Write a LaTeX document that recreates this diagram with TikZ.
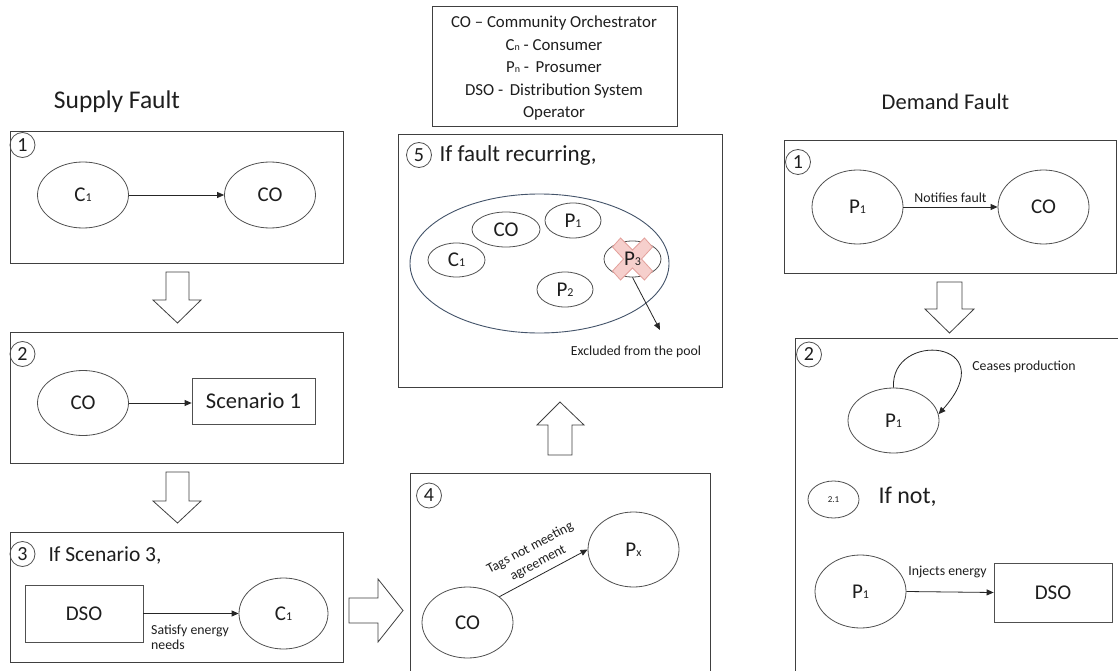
\documentclass[tikz,border=0pt]{standalone}
\usepackage{fontspec}
\setmainfont{Carlito}
\usetikzlibrary{shapes.geometric,arrows.meta}

\definecolor{lc}{HTML}{404040}
\definecolor{oc}{HTML}{505050}
\definecolor{ac}{HTML}{262626}
\definecolor{tc}{HTML}{1E1E1E}
\definecolor{poolc}{HTML}{44546A}
\definecolor{xfill}{HTML}{F6CFCC}
\definecolor{xdraw}{HTML}{E3A09B}

% small index set at the baseline (C1, P1, Cn ...)
\newcommand\ix[1]{{\fontsize{12}{12}\selectfont #1}}
\newcommand\ixs[1]{{\fontsize{10}{10}\selectfont #1}}

\tikzset{
  panel/.style={draw=lc, line width=1pt, rectangle, inner sep=0pt},
  oval/.style={ellipse, draw=oc, line width=0.8pt, inner sep=0pt, text=tc,
               font=\fontsize{21}{24}\selectfont},
  boxnode/.style={rectangle, draw=oc, line width=0.8pt, inner sep=0pt, text=tc,
               font=\fontsize{21}{24}\selectfont},
  badge/.style={ellipse, draw=oc, line width=0.8pt, inner sep=0pt,
               minimum width=25pt, minimum height=25pt, text=tc,
               font=\fontsize{20}{22}\selectfont},
  flow/.style={draw=ac, line width=0.8pt, -{Triangle[length=7pt,width=6pt]}},
  blockarrow/.style={draw=lc, line width=0.8pt, fill=white},
  small/.style={font=\fontsize{13.8}{15}\selectfont, text=tc},
  big/.style={font=\fontsize{21.5}{24}\selectfont, text=tc},
}

\begin{document}
\begin{tikzpicture}[x=1pt, y=-1pt]
\clip (0,0) rectangle (1118,671);
\fill[white] (0,0) rectangle (1118,671);

% ---------- legend ----------
\node[panel, minimum width=245pt, minimum height=120pt] (legend) at (554.5,67) {};
\node[align=center, text=tc, font=\fontsize{16.8}{22.5}\selectfont] (legendtext) at (554,68.5)
  {CO -- Community Orchestrator\\C\ixs{n} - Consumer\\P\ixs{n} -\, Prosumer\\DSO -\, Distribution System\\Operator};

% ---------- supply fault ----------
\node[font=\fontsize{25.5}{28}\selectfont, text=tc] (supplytitle) at (117,102) {Supply Fault};

\node[panel, minimum width=333pt, minimum height=131pt] (s1) at (176.5,197.5) {};
\node[badge] (s1b) at (22.5,145) {1};
\node[oval, minimum width=91pt, minimum height=66pt] (s1c) at (83,195) {C\ix{1}};
\node[oval, minimum width=91pt, minimum height=66pt] (s1co) at (270,195) {CO};
\draw[flow] (s1c) -- (s1co);

\node[panel, minimum width=333pt, minimum height=131pt] (s2) at (176.5,397.5) {};
\node[badge] (s2b) at (22.5,354) {2};
\node[oval, minimum width=91pt, minimum height=65pt] (s2co) at (83,403) {CO};
\node[boxnode, minimum width=123pt, minimum height=46pt, font=\fontsize{22.5}{24}\selectfont]
  (scen) at (253.5,401) {Scenario 1};
\draw[flow] (s2co.east) -- (s2co.east -| scen.west);

\node[panel, minimum width=333pt, minimum height=130pt] (s3) at (176.5,597) {};
\node[badge] (s3b) at (22.5,554) {3};
\node[big, anchor=west] (s3t) at (45,555) {If Scenario 3,};
\node[boxnode, minimum width=118pt, minimum height=57pt] (sdso) at (84,613.5) {DSO};
\node[oval, minimum width=89pt, minimum height=71pt] (s3c) at (283.5,613.5) {C\ix{1}};
\draw[flow] (sdso) -- (s3c);
\node[small, anchor=north west, align=left, inner sep=0pt] (s3l) at (151,625) {Satisfy energy\\needs};

% hollow block arrows of the supply chain
\draw[blockarrow] (166,272) -- (189,272) -- (189,300) -- (201,300) -- (177.5,323)
  -- (153,300) -- (166,300) -- cycle;
\draw[blockarrow] (166,472) -- (189,472) -- (189,501) -- (201,501) -- (177.5,523)
  -- (153,501) -- (166,501) -- cycle;
\draw[blockarrow] (349,598) -- (378,598) -- (378,579) -- (403,610.5) -- (378,642)
  -- (378,623) -- (349,623) -- cycle;

% ---------- step 4 ----------
\node[panel, minimum width=300pt, minimum height=230pt] (b4) at (560,588) {};
\node[badge] (b4b) at (429,495.5) {4};
\node[oval, minimum width=91pt, minimum height=71pt] (b4co) at (467.5,622.5) {CO};
\node[oval, minimum width=91pt, minimum height=75pt] (b4px) at (633.5,549.5) {P\ix{x}};
\draw[flow] (b4co.39) -- (b4px.west)
  node[midway, sloped, above, align=center, inner sep=5pt,
       font=\fontsize{13.8}{17}\selectfont, text=tc] {Tags not meeting\\agreement};

\draw[blockarrow] (548,455) -- (572,455) -- (572,425) -- (584,425) -- (560,402)
  -- (537,425) -- (548,425) -- cycle;

% ---------- step 5 ----------
\node[panel, minimum width=324pt, minimum height=252pt] (b5) at (560,261) {};
\node[badge] (b5b) at (419,155) {5};
\node[font=\fontsize{23}{26}\selectfont, text=tc, anchor=west] (b5t) at (436,155) {If fault recurring,};
\node[ellipse, draw=poolc, line width=0.9pt, minimum width=259pt, minimum height=139pt] (pool) at (539.5,263.5) {};
\node[oval, minimum width=68pt, minimum height=35pt] (pco) at (506,229.5) {CO};
\node[oval, minimum width=56pt, minimum height=35pt] (pp1) at (573,220.5) {P\ix{1}};
\node[oval, minimum width=57pt, minimum height=34pt] (pc1) at (456.5,260) {C\ix{1}};
\node[oval, minimum width=56pt, minimum height=35pt] (pp2) at (565,289.5) {P\ix{2}};
\node[oval, minimum width=57pt, minimum height=36pt] (pp3) at (632.5,259) {};
% cross over the excluded prosumer
\begin{scope}[shift={(632.5,259)}]
  \draw[fill=xfill, draw=xdraw, line width=0.8pt]
    (-20,-12) -- (-12,-21) -- (0,-9) -- (12,-21) -- (20,-12) -- (9,0)
    -- (20,12) -- (12,21) -- (0,9) -- (-12,21) -- (-20,12) -- (-9,0) -- cycle;
\end{scope}
\node[text=tc, font=\fontsize{21}{24}\selectfont, inner sep=0pt] (pp3t) at (pp3.center) {P\ix{3}};
\coordinate (exend) at (660,330);
\draw[flow] (pp3.south) -- (exend);
\node[small] (exl) at (636,352) {Excluded from the pool};

% ---------- demand fault ----------
\node[font=\fontsize{22.5}{26}\selectfont, text=tc] (demandtitle) at (945.5,102) {Demand Fault};

\node[panel, minimum width=332pt, minimum height=132pt] (d1) at (950,207) {};
\node[badge] (d1b) at (798,162) {1};
\node[oval, minimum width=91pt, minimum height=74pt] (d1p) at (857.5,207) {P\ix{1}};
\node[oval, minimum width=91pt, minimum height=74pt] (d1co) at (1043.5,207) {CO};
\draw[flow] (d1p) -- (d1co) node[midway, above, small, inner sep=4pt] {Notifies fault};

\draw[blockarrow] (937,282) -- (962,282) -- (962,309) -- (974,309) -- (949.5,333)
  -- (925,309) -- (937,309) -- cycle;

\node[panel, minimum width=340pt, minimum height=360pt] (d2) at (965,518) {};
\node[badge] (d2b) at (809,354.5) {2};
\node[oval, minimum width=91pt, minimum height=65pt] (d2p) at (893.5,420.5) {P\ix{1}};
\draw[flow] (d2p.north) .. controls (890,330) and (1005,340) .. (d2p.8);
\node[small] (cease) at (1024,367) {Ceases production};

\node[ellipse, draw=oc, line width=0.8pt, inner sep=0pt, minimum width=51pt, minimum height=37pt,
      font=\fontsize{9}{10}\selectfont, text=tc] (d21) at (833.5,499.5) {2.1};
\node[font=\fontsize{24}{26}\selectfont, text=tc, anchor=west] (ifnot) at (875,497) {If not,};

\node[oval, minimum width=91pt, minimum height=73pt] (d2p2) at (860.5,591.5) {P\ix{1}};
\node[boxnode, minimum width=118pt, minimum height=59pt] (ddso) at (1053,592.5) {DSO};
\draw[flow] (d2p2.east) -- (ddso.west);
\node[small] (inj) at (947.5,572) {Injects energy};
\end{tikzpicture}
\end{document}
